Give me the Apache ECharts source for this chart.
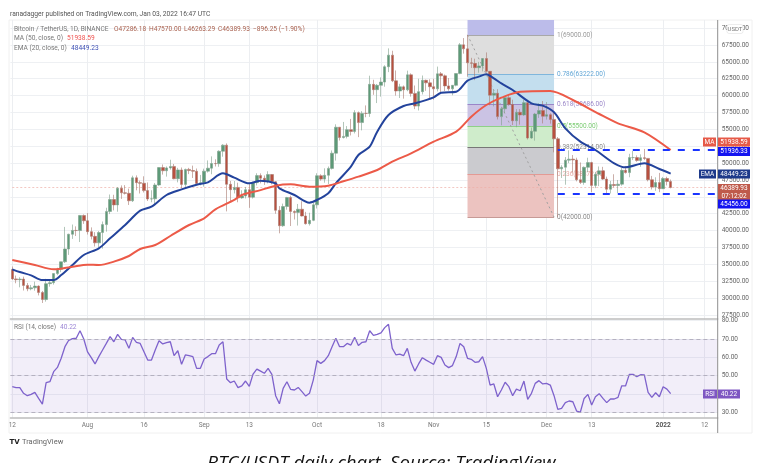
<!DOCTYPE html>
<html>
<head>
<meta charset="utf-8">
<title>BTC/USDT daily chart</title>
<script src="https://cdn.jsdelivr.net/npm/echarts@6/dist/echarts.min.js"></script>
<style>
html, body { margin: 0; padding: 0; background: #fff; overflow: hidden; }
#main { width: 773px; height: 463px; }
</style>
</head>
<body>
<div id="main"></div>
<script>
// daily candles, 2021-07-12 to 2022-01-03
var opens = [34240,32850,32730,32820,31880,31380,31520,31780,30840,29790,32140,32290,33640,34260,35380,37280,39460,40030,40010,42240,
41460,39850,39150,38190,39720,40890,42840,44610,43810,46280,45600,45530,44420,47830,47110,47020,45930,44690,44710,46760,49340,48870,49290,49510,47680,48990,46850,49070,48900,48800,46980,
47100,48810,49250,49940,49920,51760,52660,46860,46070,46400,44850,45140,46060,44960,47110,48150,47760,47300,48310,47250,43010,40720,43570,44900,42840,42700,43170,42170,41030,41520,
43820,48140,47630,48200,49220,51470,55320,53790,53960,54960,54690,57480,56010,57370,57350,61670,60880,61530,62010,64280,66000,62190,60690,61300,60860,63080,60330,58450,60590,62270,61890,
61320,61000,63230,62930,61440,61000,61530,63270,67530,66930,64860,64780,64140,64400,65500,63600,60060,60360,56890,58050,59700,58680,56280,57540,57140,58960,53720,54720,57270,57790,
56950,57180,56480,53600,49150,49390,50440,50590,50470,47540,47140,49380,50080,46700,48340,48860,47630,46130,46830,46680,46880,48930,48600,50820,50820,50400,50800,50700,47540,46460,47120,
46210,47720,47286];
var closes = [32850,32730,32820,31880,31380,31520,31780,30840,29790,32140,32290,33640,34260,35380,37280,39460,40030,40010,42240,41460,
39850,39150,38190,39720,40890,42840,44610,43810,46280,45600,45530,44420,47830,47110,47020,45930,44690,44710,46760,49340,48870,49290,49510,47680,48990,46850,49070,48900,48800,46980,47100,
48810,49250,49940,49920,51760,52660,46860,46070,46400,44850,45140,46060,44960,47110,48150,47760,47300,48310,47250,43010,40720,43570,44900,42840,42700,43170,42170,41030,41520,43820,
48140,47630,48200,49220,51470,55320,53790,53960,54960,54690,57480,56010,57370,57350,61670,60880,61530,62010,64280,66000,62190,60690,61300,60860,63080,60330,58450,60590,62270,61890,61320,
61000,63230,62930,61440,61000,61530,63270,67530,66930,64860,64780,64140,64400,65500,63600,60060,60360,56890,58050,59700,58680,56280,57540,57140,58960,53720,54720,57270,57790,56950,
57180,56480,53600,49150,49390,50440,50590,50470,47540,47140,49380,50080,46700,48340,48860,47630,46130,46830,46680,46880,48930,48600,50820,50820,50400,50800,50700,47540,46460,47120,46210,
47720,47286,46390];
var highs = [34680,33340,33100,33180,32250,31950,32440,31890,31060,32860,32600,33650,34500,35400,40550,39540,40900,40630,42320,42400,
42600,40480,39770,39950,41350,43390,45350,45310,46450,46700,46740,46220,48140,48180,47400,48050,47140,45980,47050,49380,49800,49500,50500,49870,49300,49350,49180,49300,49630,49200,48250,
49180,50400,51000,50560,51900,52800,52920,47360,47350,47100,45980,46470,46900,47250,48500,48480,48170,48800,48370,47330,43640,44000,45000,45170,43000,43950,44350,42780,42650,44130,
48500,48350,49230,49500,51880,55750,55340,56100,55490,56550,57840,57650,57700,58550,62950,62350,61720,62700,64500,67000,66650,63730,61750,61500,63700,63300,61500,62500,62980,62370,62420,
62500,64300,63500,63130,62600,61560,63300,67790,68530,69000,65600,65470,65000,65550,66400,63500,60800,60950,58350,59850,60050,59400,58000,58000,59400,59150,55280,57440,58870,59200,
59050,57380,57600,53870,49700,50900,51900,51200,50800,50100,49500,50800,50200,48700,49500,49450,48000,47360,48350,47500,49300,49580,51380,51800,51150,51300,52100,50700,48100,47900,48550,
47950,47980,47570];
var lows = [32700,32200,31600,31130,31020,31160,31100,30400,29280,29480,31700,32000,33400,33850,35200,36400,38770,39200,38310,41000,
39420,38690,37640,37510,37330,39850,42450,43000,42800,44700,45350,43800,44240,45970,45500,45650,44390,44200,43930,46640,48300,48000,49030,47600,47150,46300,46370,48370,47800,46900,46700,
46520,48600,48350,49500,49460,50950,42850,44400,45510,44200,44720,44760,43370,44750,46700,47000,46770,47000,46850,42500,39600,40560,43100,40680,41650,40750,42100,40890,40750,41400,
43280,47400,47100,46900,49050,50380,53350,53650,53660,54100,54400,53850,54850,56800,56850,60120,58900,59850,61320,63480,62000,60000,59650,59550,60650,59850,58000,57800,60170,60720,59500,
59400,60620,60400,60680,60720,60050,61380,63170,66220,62800,64100,62300,63400,63580,63400,58570,58400,56470,55600,57400,58500,55650,55320,55700,57000,53500,53610,53330,56700,55880,
56450,55850,51600,42000,47800,46800,50000,48600,47300,46900,46800,48650,45700,46300,46600,47500,45450,45500,46400,45550,46650,48450,47900,50450,50200,49450,50450,47300,46100,45900,45700,
46200,46700,46263];

// moving averages: readings at the listed day numbers (0 = 2021-07-12)
var emaDays = [0,2,5,8,11,13,16,19,23,26,30,34,37,41,45,49,52,56,59,63,66,70,71,75,79,81,84,86,90,92,95,97,100,104,107,112,114,118,121,124,126,128,130,133,138,141,144,147,151,155,160,163,168,172,175];
var emaValues = [34265,33870,33377,32686,32686,33427,34908,36390,37377,38858,40833,42957,43550,45278,46117,46808,47154,48487,47846,47006,47400,47008,46267,45280,44144,44539,45526,47008,49477,51205,52440,54662,57131,58464,58859,59748,60439,60587,62217,62810,63155,62563,61800,60834,58858,58513,57525,55155,53180,51945,49970,49377,49970,49130,48449];
var maDays = [0,6,11,16,20,23,27,31,34,38,42,47,51,54,59,61,66,70,74,79,84,88,92,97,101,106,112,118,122,126,130,135,143,149,156,161,168,175];
var maValues = [35648,34908,34266,34661,34957,34908,35402,36241,37278,37871,39204,40833,41821,43154,44537,45278,46000,46662,46860,46514,46662,47304,47995,48983,50217,51452,53180,54661,56884,58612,59700,60587,60686,59353,57278,55895,54562,51939];

var rsiValues = [44,43.5,43.5,40.4,39.1,39.8,40.9,37.6,34.5,46.2,46.7,52.2,54.5,59.5,65.8,69.3,70.2,70.4,74.5,70,
63,59.8,56.4,60.4,64,67.6,71.3,68.5,72.5,69.8,69.5,64.9,70.9,68.2,67.6,63,58.5,58.5,64,69.1,67.3,68,68.5,60.9,63.6,56.2,61.3,60.9,60.4,54,54,
59.1,60.4,62,62,66.7,68.5,48.2,46.2,47.1,43.5,44.4,47.1,44.2,50.9,53.6,52.5,51.3,54,50.7,39.1,34.7,43.1,46.7,42.5,42.2,43.6,41.3,38.9,40.4,47.6,
58.2,56.7,58.2,60.9,65.8,70.4,65.8,65.8,67.6,66.7,70.9,66.4,68.2,68.5,74.5,72,72.5,73.3,76.2,78,64.9,61.3,61.8,60.9,64.9,57.3,52.5,56.4,59.8,58.5,57.3,
56.2,60.9,60,55.8,54.4,55.5,60.4,67.6,65.8,59.5,58.9,57.3,57.6,60.4,54,44.9,45.5,38.5,42.2,46.4,44,39.1,42.7,41.8,47.1,37.1,40.4,45.8,47.3,45.5,
45.8,44.9,39.1,31.6,32.2,35.3,36.2,35.8,30.7,30.2,37.6,39.8,34,38.5,40.2,37.6,35.3,37.3,37.3,38.2,44.5,44.4,50.7,50.7,49.5,50.5,50.4,40.9,38.2,40.7,38.5,
44,42.7,40.22];

var tickDates = ['2021-07-12','2021-08-01','2021-08-16','2021-09-01','2021-09-13','2021-10-01','2021-10-18','2021-11-01','2021-11-15','2021-12-01','2021-12-13','2022-01-01','2022-01-12'];
var tickLabels = ['12','Aug','16','Sep','13','Oct','18','Nov','15','Dec','13','2022','12'];
var priceTicks = [27500,30000,32500,35000,37500,40000,42500,45000,47500,50000,52500,55000,57500,60000,62500,65000,67500,70000];
var rsiTicks = [30,40,50,60,70,80];

var fibLevels = [69000,63222,58686,55500,52314,48372,42000];
var fibNames = ['1(69000.00)','0.786(63222.00)','0.618(58686.00)','0.5(55500.00)','0.382(52314.00)','0.236(48372.00)','0(42000.00)'];
var fibLine = ['#a8a8a8','#7fb6dc','#9a86c8','#8fd088','#777777','#e39a94','#c79a96'];
var fibText = ['#999999','#62a6d6','#9a86c8','#7ccc74','#888888','#e8aaa4','#888888'];
var fibFill = ['#dedede','#c3deee','#cbc3e4','#cfeccb','#cbcbcf','#ecc3c0'];
var lastPrice = 46389.93, resistance = 51936.33, support = 45456;

var categories = [];
for (var i = 0; i < 188; i++) {
    categories.push(new Date(Date.UTC(2021, 6, 12 + i)).toISOString().slice(0, 10));
}
var candles = closes.map(function (c, i) { return [opens[i], c, lows[i], highs[i]]; });
var pairs = function (days, vals) { return days.map(function (d, i) { return [d, vals[i]]; }); };

var fibStart = '2021-11-10', fibEnd = '2021-12-03', axisEnd = categories[187];
var fibAreas = [[{ xAxis: fibStart, yAxis: 71204, itemStyle: { color: '#bcbcea' } }, { xAxis: fibEnd, yAxis: 69000 }]];
fibFill.forEach(function (c, i) {
    fibAreas.push([{ xAxis: fibStart, yAxis: fibLevels[i], itemStyle: { color: c } }, { xAxis: fibEnd, yAxis: fibLevels[i + 1] }]);
});
var fibLines = fibLevels.map(function (v, i) {
    return [{
        xAxis: fibStart, yAxis: v,
        lineStyle: { color: fibLine[i], width: 1, type: 'solid' },
        label: { formatter: fibNames[i], color: fibText[i], fontSize: 6.5, position: 'end', distance: 3 }
    }, { xAxis: fibEnd, yAxis: v }];
});
fibLines.push([{ xAxis: fibStart, yAxis: 69000, lineStyle: { color: '#a0a0a0', width: 1, type: [2, 3] }, label: { show: false } }, { xAxis: fibEnd, yAxis: 42000 }]);
fibLines.push([{ xAxis: categories[0], yAxis: lastPrice, lineStyle: { color: '#eeb0a8', width: 0.7, type: [2, 2] }, label: { show: false } }, { xAxis: axisEnd, yAxis: lastPrice }]);

function text(x, y, str, color, size, extra) {
    return {
        type: 'text', x: x, y: y, z: 30,
        style: Object.assign({ text: str, fill: color, fontSize: size || 6.6, fontFamily: 'Roboto', textVerticalAlign: 'middle' }, extra || {})
    };
}
function badge(x, y, w, h, str, color, size) {
    return {
        type: 'group', z: 30,
        children: [
            { type: 'rect', z: 30, shape: { x: x, y: y - h / 2, width: w, height: h }, style: { fill: color } },
            { type: 'text', z: 31, x: x + w / 2, y: y, style: { text: str, fill: '#fff', fontSize: size || 6.5, fontFamily: 'Roboto', textAlign: 'center', textVerticalAlign: 'middle' } }
        ]
    };
}
var brown = '#a9614f';
var graphics = [
    { type: 'rect', z: 0, shape: { x: 9, y: 20, width: 743, height: 413 }, style: { fill: 'none', stroke: '#f0f0f0', lineWidth: 1 } },
    { type: 'line', z: 20, shape: { x1: 717.7, y1: 20, x2: 717.7, y2: 433 }, style: { stroke: '#8f8f8f', lineWidth: 1 } },
    text(10, 14, 'ranadagger published on TradingView.com, Jan 03, 2022 16:47 UTC', '#555555', 6.7),
    text(14, 29, 'Bitcoin / TetherUS, 1D, BINANCE', '#777777'),
    text(114, 29, 'O47286.18', brown), text(149, 29, 'H47570.00', brown), text(184, 29, 'L46263.29', brown),
    text(218, 29, 'C46389.93', brown), text(253, 29, '\u2212896.25 (\u22121.90%)', brown),
    text(14, 38.5, 'MA (50, close, 0)', '#777777'), text(67, 38.5, '51938.59', '#ef5350'),
    text(14, 48, 'EMA (20, close, 0)', '#777777'), text(71, 48, '48449.23', '#3f51b5'),
    text(14, 327.5, 'RSI (14, close)', '#777777'), text(60, 327.5, '40.22', '#9c86d6'),
    badge(703, 142, 13, 9, 'MA', '#e65a48'),
    badge(718, 142, 32, 9, '51938.59', '#e65a48'),
    badge(718, 151.5, 32, 9, '51936.33', '#1414f0'),
    badge(699, 174, 17, 9, 'EMA', '#1e3a8a'),
    badge(718, 174, 32, 9, '48449.23', '#1e3a8a'),
    { type: 'rect', z: 30, shape: { x: 718, y: 184, width: 32, height: 16 }, style: { fill: '#bf5a4b' } },
    text(734, 188.5, '46389.93', '#fff', 6.5, { textAlign: 'center' }),
    text(734, 196, '07:12:02', '#fff', 6.5, { textAlign: 'center' }),
    badge(718, 204, 32, 9, '45456.00', '#1414f0'),
    badge(703, 394, 14, 9, 'RSI', '#7e57c2'),
    badge(718, 394, 22, 9, '40.22', '#7e57c2'),
    { type: 'rect', z: 30, shape: { x: 727, y: 24.5, width: 16, height: 9, r: 2 }, style: { fill: '#fff', stroke: '#e0e0e0', lineWidth: 0.6 } },
    text(735, 29, 'USDT', '#777777', 6, { textAlign: 'center' }),
    text(9.5, 442, 'TV', '#222222', 7, { fontWeight: 'bold', fontFamily: 'DejaVu Sans' }),
    text(22, 442, 'TradingView', '#666666', 7.5),
    { type: 'text', z: 30, x: 207, y: 454, style: { text: 'BTC/USDT daily chart. Source: TradingView', fill: '#111', fontSize: 18.6, fontStyle: 'italic', fontFamily: 'Open Sans' } }
];

var grids = { left: 10.4, width: 707.3 };
var gridLine = { show: true, lineStyle: { color: '#eef0f3', width: 1 } };
var tickShown = function (i, v) { return tickDates.indexOf(v) >= 0; };
var xAxisBase = {
    type: 'category', data: categories, boundaryGap: true,
    axisTick: { show: false, alignWithLabel: true, interval: tickShown },
    splitLine: { show: true, alignWithLabel: true, interval: tickShown, lineStyle: { color: '#eceef1', width: 1 } }
};

var myChart = echarts.init(document.getElementById('main'), null, { renderer: 'canvas' });
var option = {
    animation: false,
    backgroundColor: '#ffffff',
    textStyle: { fontFamily: 'Roboto' },
    graphic: graphics,
    grid: [
        Object.assign({ top: 20, height: 299 }, grids),
        Object.assign({ top: 319, height: 98.7 }, grids)
    ],
    xAxis: [
        Object.assign({ gridIndex: 0, axisLabel: { show: false }, axisLine: { show: true, onZero: false, lineStyle: { color: '#bdbdbd', width: 1.5 } } }, xAxisBase),
        Object.assign({
            gridIndex: 1,
            axisLine: { show: true, onZero: false, lineStyle: { color: '#bdbdbd', width: 1.5 } },
            axisLabel: {
                interval: tickShown, color: '#777777', fontSize: 6.5, margin: 4,
                formatter: function (v) {
                    var s = tickLabels[tickDates.indexOf(v)];
                    return s === '2022' ? '{b|2022}' : s;
                },
                rich: { b: { fontSize: 6.5, fontWeight: 'bold', color: '#555555' } }
            }
        }, xAxisBase)
    ],
    yAxis: [
        {
            gridIndex: 0, type: 'value', position: 'right', min: 26906, max: 71204, scale: true,
            axisLine: { show: false }, axisTick: { show: false, customValues: priceTicks },
            axisLabel: { customValues: priceTicks, color: '#666666', fontSize: 6.5, margin: 4, formatter: function (v) { return v.toFixed(2); } },
            splitLine: gridLine
        },
        {
            gridIndex: 1, type: 'value', position: 'right', min: 27.1, max: 80.9, scale: true,
            axisLine: { show: false }, axisTick: { show: false, customValues: rsiTicks },
            axisLabel: { customValues: rsiTicks, color: '#666666', fontSize: 6.5, margin: 4, formatter: function (v) { return v.toFixed(2); } },
            splitLine: gridLine
        }
    ],
    series: [
        {
            name: 'Fib', type: 'line', data: [], xAxisIndex: 0, yAxisIndex: 0, z: 1, silent: true,
            markArea: { silent: true, z: 1, data: fibAreas },
            markLine: { silent: true, z: 1, symbol: 'none', data: fibLines }
        },
        {
            name: 'BTCUSDT', type: 'candlestick', xAxisIndex: 0, yAxisIndex: 0, z: 3, barWidth: 3,
            data: candles,
            itemStyle: { color: '#5d9a78', color0: '#b8503f', borderColor: '#7f9f8c', borderColor0: '#a8786e', borderWidth: 0.6 }
        },
        {
            name: 'EMA', type: 'line', xAxisIndex: 0, yAxisIndex: 0, z: 4, symbol: 'none', smooth: 0.3,
            data: pairs(emaDays, emaValues), lineStyle: { color: '#23439c', width: 2 }
        },
        {
            name: 'MA', type: 'line', xAxisIndex: 0, yAxisIndex: 0, z: 4, symbol: 'none', smooth: 0.3,
            data: pairs(maDays, maValues), lineStyle: { color: '#ec5a48', width: 2 },
            markLine: {
                silent: true, z: 5, symbol: 'none', label: { show: false },
                lineStyle: { color: '#1a35ff', width: 1.8, type: [7, 8] },
                data: [
                    [{ xAxis: '2021-12-04', yAxis: resistance }, { xAxis: axisEnd, yAxis: resistance }],
                    [{ xAxis: '2021-12-04', yAxis: support }, { xAxis: axisEnd, yAxis: support }]
                ]
            }
        },
        {
            name: 'RSI', type: 'line', xAxisIndex: 1, yAxisIndex: 1, z: 4, symbol: 'none',
            data: rsiValues, lineStyle: { color: '#7e62cc', width: 1.3 },
            markArea: { silent: true, itemStyle: { color: 'rgba(126,87,194,0.1)' }, data: [[{ yAxis: 70 }, { yAxis: 30 }]] },
            markLine: {
                silent: true, symbol: 'none', label: { show: false },
                lineStyle: { color: '#a8a4b4', width: 0.8, type: [4, 3] },
                data: [{ yAxis: 70 }, { yAxis: 50 }, { yAxis: 30 }]
            }
        }
    ]
};
myChart.setOption(option);
</script>
</body>
</html>
